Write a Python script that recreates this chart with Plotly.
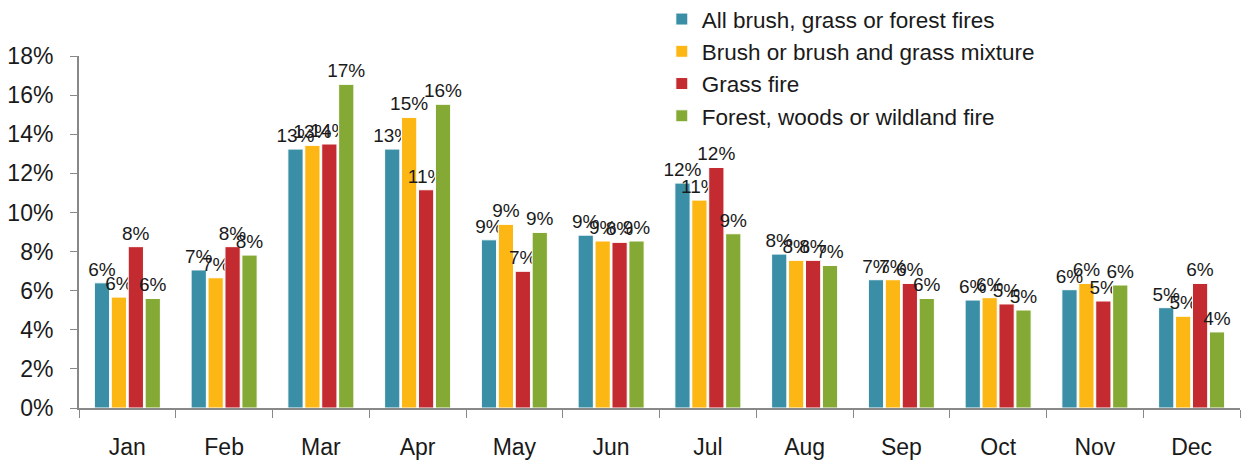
import math
import plotly.graph_objects as go

months = ["Jan", "Feb", "Mar", "Apr", "May", "Jun", "Jul", "Aug", "Sep", "Oct", "Nov", "Dec"]
series_names = [
    "All brush, grass or forest fires",
    "Brush or brush and grass mixture",
    "Grass fire",
    "Forest, woods or wildland fire",
]
all_fires = [6.4, 7.06, 13.24, 13.24, 8.6, 8.84, 11.5, 7.87, 6.56, 5.52, 6.05, 5.13]
brush = [5.67, 6.66, 13.43, 14.86, 9.39, 8.54, 10.63, 7.55, 6.56, 5.64, 6.37, 4.69]
grass = [8.25, 8.25, 13.5, 11.16, 6.99, 8.47, 12.3, 7.55, 6.37, 5.32, 5.47, 6.37]
forest = [5.6, 7.82, 16.55, 15.53, 8.98, 8.54, 8.91, 7.29, 5.6, 5.01, 6.29, 3.89]
colors = ["#3A8FA7", "#FDB714", "#C42B30", "#85A935"]

FONT = "Liberation Sans, Arial"

fig = go.Figure()
for name, vals, col in zip(series_names, [all_fires, brush, grass, forest], colors):
    fracs = [v / 100 for v in vals]
    labels = [f"{int(math.floor(v + 0.5))}%" for v in vals]
    fig.add_trace(go.Bar(
        x=months, y=fracs, name=name,
        marker=dict(color=col, line=dict(color="white", width=1)),
        text=labels,
        textposition="outside",
        textfont=dict(size=19, color="#1a1a1a", family=FONT),
        constraintext="none",
        cliponaxis=False,
    ))

fig.update_layout(
    width=1243, height=460,
    margin=dict(l=79, r=3, t=56, b=52, autoexpand=False),
    paper_bgcolor="white", plot_bgcolor="white",
    barmode="group", bargap=0.3, bargroupgap=0.1,
    font=dict(family=FONT, size=23, color="#1a1a1a"),
    legend=dict(
        x=0.502, y=1.165, xanchor="left", yanchor="top",
        font=dict(size=22.5, family=FONT), bgcolor="rgba(0,0,0,0)",
        tracegroupgap=0, itemwidth=30,
    ),
    xaxis=dict(
        showline=True, linecolor="#888888", linewidth=2,
        ticks="outside", tickson="boundaries", ticklen=8, tickcolor="#888888",
        tickfont=dict(size=23), showgrid=False, automargin=False,
        ticklabelstandoff=17,
    ),
    yaxis=dict(
        range=[0, 0.18], dtick=0.02, tickformat=".0%",
        showline=True, linecolor="#888888", linewidth=2,
        ticks="outside", ticklen=7, tickcolor="#888888",
        tickfont=dict(size=23), showgrid=False, zeroline=False, automargin=False,
        ticklabelstandoff=12,
    ),
)

fig.write_html(
    "out.html",
    config={"displayModeBar": False},
    post_script="document.body.style.margin='0';",
)
